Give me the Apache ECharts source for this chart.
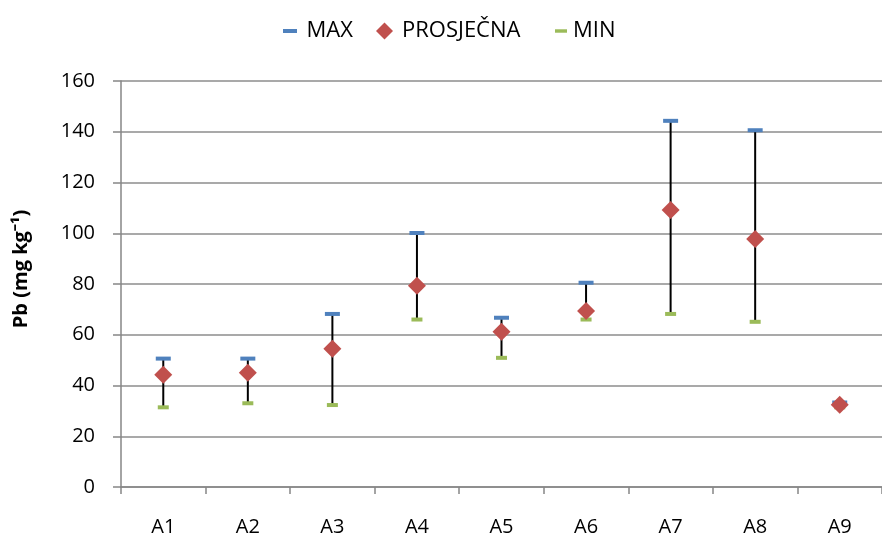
<!DOCTYPE html>
<html><head><meta charset="utf-8">
<script src="https://cdn.jsdelivr.net/npm/echarts@6/dist/echarts.min.js"></script>
<style>html,body{margin:0;padding:0;background:#fff}#c{width:882px;height:539px}</style>
</head><body><div id="c"></div>
<script>
const categories = ['A1','A2','A3','A4','A5','A6','A7','A8','A9'];
const maxValues = [50.6, 50.6, 68.2, 100.1, 66.7, 80.5, 144.3, 140.6, 33.3];
const avgValues = [44.2, 45.0, 54.5, 79.3, 61.2, 69.4, 109.2, 97.7, 32.4];
const minValues = [31.4, 33.0, 32.3, 66.0, 50.9, 66.0, 68.2, 65.1, 31.4];
const yTicks = [0, 20, 40, 60, 80, 100, 120, 140, 160];

const font = 'Open Sans';
const barIcon = 'path://M0,0 L14,0 L14,4 L0,4 Z';
function legendAt(left, name, icon, color, w, h, gap) {
  return {
    top: 20, left: left, padding: 0, itemWidth: w, itemHeight: h,
    textStyle: {fontSize: 22, color: '#000', fontFamily: font, padding: [0, 0, 0, gap]},
    data: [{name: name, icon: icon, itemStyle: {color: color}}]
  };
}
const chart = echarts.init(document.getElementById('c'), null, {renderer: 'canvas'});
chart.setOption({
  animation: false,
  backgroundColor: '#fff',
  legend: [
    legendAt(283, 'MAX', barIcon, '#4F81BD', 15, 4, 4),
    legendAt(376, 'PROSJEČNA', 'diamond', '#C0504D', 17, 17, 4),
    legendAt(555, 'MIN', barIcon, '#9BBB59', 12, 4, 1)
  ],
  grid: {left: 121, right: -11, top: 81, bottom: 52, containLabel: false},
  xAxis: {
    type: 'category', data: categories, boundaryGap: true,
    axisLine: {lineStyle: {color: '#868686', width: 1.5}},
    axisTick: {show: true, length: 7, lineStyle: {color: '#868686', width: 1.5}},
    axisLabel: {fontSize: 20, color: '#000', margin: 30, fontFamily: font}
  },
  yAxis: {
    type: 'value', min: yTicks[0], max: yTicks[yTicks.length-1], interval: 20,
    name: 'Pb (mg kg⁻¹)', nameLocation: 'middle', nameGap: 90, nameRotate: 90,
    nameTextStyle: {fontSize: 20, fontWeight: 'bold', color: '#000', fontFamily: font, padding: [0, 0, 0, 30]},
    axisLine: {show: true, lineStyle: {color: '#868686', width: 1.5}},
    axisTick: {show: true, length: 8, inside: false, lineStyle: {color: '#868686', width: 1.5}},
    axisLabel: {fontSize: 20, color: '#000', margin: 26, fontFamily: font},
    splitLine: {lineStyle: {color: '#8c8c8c', width: 1.5}}
  },
  series: [
    {
      type: 'custom', name: 'range', silent: true, z: 2,
      data: categories.map((c, i) => [i, minValues[i], maxValues[i]]),
      renderItem: function (params, api) {
        const p1 = api.coord([api.value(0), api.value(1)]);
        const p2 = api.coord([api.value(0), api.value(2)]);
        return {type: 'line', shape: {x1: p1[0], y1: p1[1], x2: p2[0], y2: p2[1]},
          style: {stroke: '#000', lineWidth: 2}};
      }
    },
    {type: 'scatter', name: 'MAX', data: maxValues, symbol: 'rect', symbolSize: [15, 4],
      itemStyle: {color: '#4F81BD', opacity: 1}, z: 3},
    {type: 'scatter', name: 'MIN', data: minValues, symbol: 'rect', symbolSize: [11, 4],
      itemStyle: {color: '#9BBB59', opacity: 1}, z: 3},
    {type: 'scatter', name: 'PROSJEČNA', data: avgValues, symbol: 'diamond', symbolSize: [18, 18],
      itemStyle: {color: '#C0504D', opacity: 1}, z: 4}
  ]
});
</script></body></html>
